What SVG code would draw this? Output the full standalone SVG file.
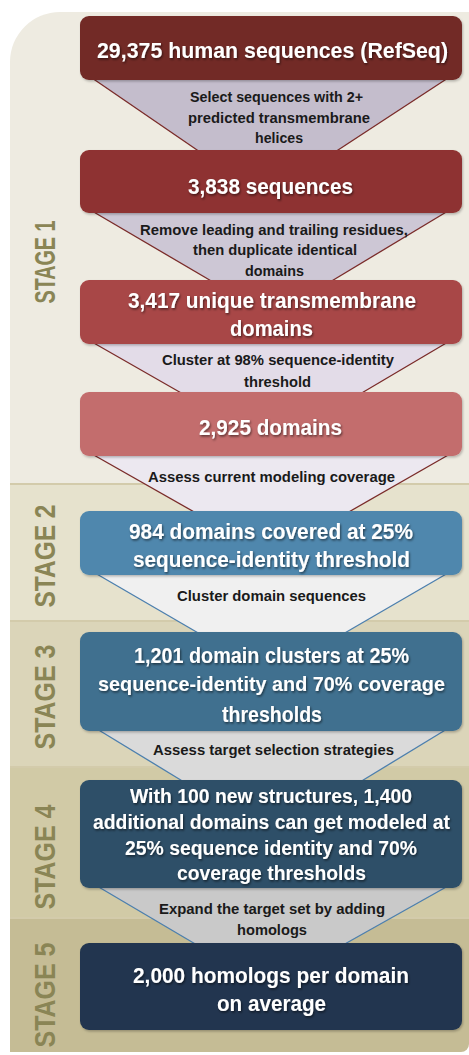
<svg xmlns="http://www.w3.org/2000/svg" width="469" height="1055" viewBox="0 0 469 1055">
<defs>
<style>
.bt{font-family:"Liberation Sans",Arial,sans-serif;font-weight:bold;font-size:22px;fill:#ffffff;text-anchor:middle;filter:url(#ts)}
.b7{font-size:20px}
.bs{font-size:20.5px}
.ft{font-family:"Liberation Sans",Arial,sans-serif;font-weight:bold;font-size:15.5px;fill:#1a1a1a;text-anchor:middle}
.st{font-family:"Liberation Sans",Arial,sans-serif;font-weight:bold;font-size:30px;fill:#8a8555;text-anchor:middle}
.fr{stroke:#7a2b29;stroke-width:1.3}
.fb{stroke:#4c7fae;stroke-width:1.3}
.sep{stroke:#d3cbab;stroke-width:2}
</style>
<filter id="ts" x="-10%" y="-30%" width="120%" height="160%">
<feDropShadow dx="1" dy="1.5" stdDeviation="0.8" flood-color="#000" flood-opacity="0.55"/>
</filter>
<filter id="bs" x="-5%" y="-10%" width="110%" height="130%">
<feDropShadow dx="1" dy="1.5" stdDeviation="1.2" flood-color="#000" flood-opacity="0.25"/>
</filter>
<clipPath id="bgc"><path d="M10,62 A50,50 0 0 1 60,12 L469,12 L469,1044 A8,8 0 0 1 461,1052 L10,1052 Z"/></clipPath>
</defs>
<rect width="469" height="1055" fill="#ffffff"/>
<g id="background" clip-path="url(#bgc)">
<rect x="0" y="0" width="469" height="484" fill="#eeebe1"/>
<rect x="0" y="484" width="469" height="137" fill="#e6e2cd"/>
<rect x="0" y="621" width="469" height="146" fill="#dbd5b9"/>
<rect x="0" y="767" width="469" height="151" fill="#d1caa6"/>
<rect x="0" y="918" width="469" height="140" fill="#c5bc95"/>
<line class="sep" x1="0" y1="484" x2="469" y2="484"/>
<line class="sep" x1="0" y1="621" x2="469" y2="621"/>
<line class="sep" x1="0" y1="767" x2="469" y2="767"/>
<line class="sep" x1="0" y1="918" x2="469" y2="918"/>
</g>
<g id="stage-labels">
<text class="st" transform="translate(55,262) rotate(-90)" textLength="83" lengthAdjust="spacingAndGlyphs">STAGE 1</text>
<text class="st" transform="translate(55,556) rotate(-90)" textLength="103" lengthAdjust="spacingAndGlyphs">STAGE 2</text>
<text class="st" transform="translate(55,697) rotate(-90)" textLength="105" lengthAdjust="spacingAndGlyphs">STAGE 3</text>
<text class="st" transform="translate(55,857) rotate(-90)" textLength="105" lengthAdjust="spacingAndGlyphs">STAGE 4</text>
<text class="st" transform="translate(55,995) rotate(-90)" textLength="105" lengthAdjust="spacingAndGlyphs">STAGE 5</text>
</g>
<g id="connectors">
<g id="funnel1">
<polygon points="92,78 448,78 335,152 200,152" fill="#c4bdcc"/>
<line class="fr" x1="92" y1="78" x2="200" y2="152"/><line class="fr" x1="448" y1="78" x2="335" y2="152"/>
<text class="ft" x="276.5" y="102" textLength="173" lengthAdjust="spacingAndGlyphs">Select sequences with 2+</text>
<text class="ft" x="279" y="122.5" textLength="182" lengthAdjust="spacingAndGlyphs">predicted transmembrane</text>
<text class="ft" x="279" y="143" textLength="48" lengthAdjust="spacingAndGlyphs">helices</text>
</g>
<g id="funnel2">
<polygon points="92,211 448,211 330,282 213,282" fill="#cdc7d5"/>
<line class="fr" x1="92" y1="211" x2="213" y2="282"/><line class="fr" x1="448" y1="211" x2="330" y2="282"/>
<text class="ft" x="274" y="235" textLength="268" lengthAdjust="spacingAndGlyphs">Remove leading and trailing residues,</text>
<text class="ft" x="275" y="255" textLength="164" lengthAdjust="spacingAndGlyphs">then duplicate identical</text>
<text class="ft" x="274.5" y="276" textLength="59" lengthAdjust="spacingAndGlyphs">domains</text>
</g>
<g id="funnel3">
<polygon points="92,342 448,342 360,394 183,394" fill="#e3dce8"/>
<line class="fr" x1="92" y1="342" x2="183" y2="394"/><line class="fr" x1="448" y1="342" x2="360" y2="394"/>
<text class="ft" x="278" y="365" textLength="232" lengthAdjust="spacingAndGlyphs">Cluster at 98% sequence-identity</text>
<text class="ft" x="277.5" y="387" textLength="67" lengthAdjust="spacingAndGlyphs">threshold</text>
</g>
<g id="funnel4">
<polygon points="92,454 450,454 347,513 196,513" fill="#ece8f0"/>
<line class="fr" x1="92" y1="454" x2="196" y2="513"/><line class="fr" x1="450" y1="454" x2="347" y2="513"/>
<text class="ft" x="271.5" y="482" textLength="247" lengthAdjust="spacingAndGlyphs">Assess current modeling coverage</text>
</g>
<g id="funnel5">
<polygon points="95,573 448,573 343,634 200,634" fill="#f0f0f0"/>
<line class="fb" x1="95" y1="573" x2="200" y2="634"/><line class="fb" x1="448" y1="573" x2="343" y2="634"/>
<text class="ft" x="271.5" y="601" textLength="189" lengthAdjust="spacingAndGlyphs">Cluster domain sequences</text>
</g>
<g id="funnel6">
<polygon points="97,729 447,729 360,782 184,782" fill="#dadada"/>
<line class="fb" x1="97" y1="729" x2="184" y2="782"/><line class="fb" x1="447" y1="729" x2="360" y2="782"/>
<text class="ft" x="273.5" y="755" textLength="241" lengthAdjust="spacingAndGlyphs">Assess target selection strategies</text>
</g>
<g id="funnel7">
<polygon points="97,886 448,886 343,945 197,945" fill="#c9c9c9"/>
<line class="fb" x1="97" y1="886" x2="197" y2="945"/><line class="fb" x1="448" y1="886" x2="343" y2="945"/>
<text class="ft" x="272" y="914" textLength="226" lengthAdjust="spacingAndGlyphs">Expand the target set by adding</text>
<text class="ft" x="272" y="935" textLength="70" lengthAdjust="spacingAndGlyphs">homologs</text>
</g>
</g>
<g id="box1">
<rect x="80" y="16" width="382" height="64" rx="9" fill="#722927" filter="url(#bs)"/>
<text class="bt" x="272.5" y="58" textLength="351" lengthAdjust="spacingAndGlyphs">29,375 human sequences (RefSeq)</text>
</g>
<g id="box2">
<rect x="80" y="150" width="382" height="63" rx="9" fill="#8e3330" filter="url(#bs)"/>
<text class="bt" x="270.5" y="194" textLength="165" lengthAdjust="spacingAndGlyphs">3,838 sequences</text>
</g>
<g id="box3">
<rect x="80" y="280" width="382" height="64" rx="9" fill="#a84646" filter="url(#bs)"/>
<text class="bt" x="272" y="308" textLength="288" lengthAdjust="spacingAndGlyphs">3,417 unique transmembrane</text>
<text class="bt" x="271.5" y="336" textLength="83" lengthAdjust="spacingAndGlyphs">domains</text>
</g>
<g id="box4">
<rect x="80" y="392" width="382" height="64" rx="9" fill="#c36d6d" filter="url(#bs)"/>
<text class="bt" x="270.5" y="435" textLength="143" lengthAdjust="spacingAndGlyphs">2,925 domains</text>
</g>
<g id="box5">
<rect x="80" y="511" width="382" height="64" rx="9" fill="#4f87ad" filter="url(#bs)"/>
<text class="bt" x="271" y="539" textLength="284" lengthAdjust="spacingAndGlyphs">984 domains covered at 25%</text>
<text class="bt" x="271.5" y="567" textLength="277" lengthAdjust="spacingAndGlyphs">sequence-identity threshold</text>
</g>
<g id="box6">
<rect x="80" y="632" width="382" height="99" rx="9" fill="#41708f" filter="url(#bs)"/>
<text class="bt" x="271.5" y="663" textLength="275" lengthAdjust="spacingAndGlyphs">1,201 domain clusters at 25%</text>
<text class="bt bs" x="271.5" y="691" textLength="347" lengthAdjust="spacingAndGlyphs">sequence-identity and 70% coverage</text>
<text class="bt" x="272" y="722" textLength="100" lengthAdjust="spacingAndGlyphs">thresholds</text>
</g>
<g id="box7">
<rect x="80" y="780" width="382" height="108" rx="9" fill="#2e4f67" filter="url(#bs)"/>
<text class="bt b7" x="271" y="803" textLength="282" lengthAdjust="spacingAndGlyphs">With 100 new structures, 1,400</text>
<text class="bt b7" x="271.5" y="829" textLength="357" lengthAdjust="spacingAndGlyphs">additional domains can get modeled at</text>
<text class="bt b7" x="271" y="855" textLength="292" lengthAdjust="spacingAndGlyphs">25% sequence identity and 70%</text>
<text class="bt b7" x="271.5" y="880" textLength="189" lengthAdjust="spacingAndGlyphs">coverage thresholds</text>
</g>
<g id="box8">
<rect x="80" y="943" width="382" height="87" rx="9" fill="#21364f" filter="url(#bs)"/>
<text class="bt" x="271" y="983" textLength="276" lengthAdjust="spacingAndGlyphs">2,000 homologs per domain</text>
<text class="bt" x="271.5" y="1011" textLength="109" lengthAdjust="spacingAndGlyphs">on average</text>
</g>
</svg>
